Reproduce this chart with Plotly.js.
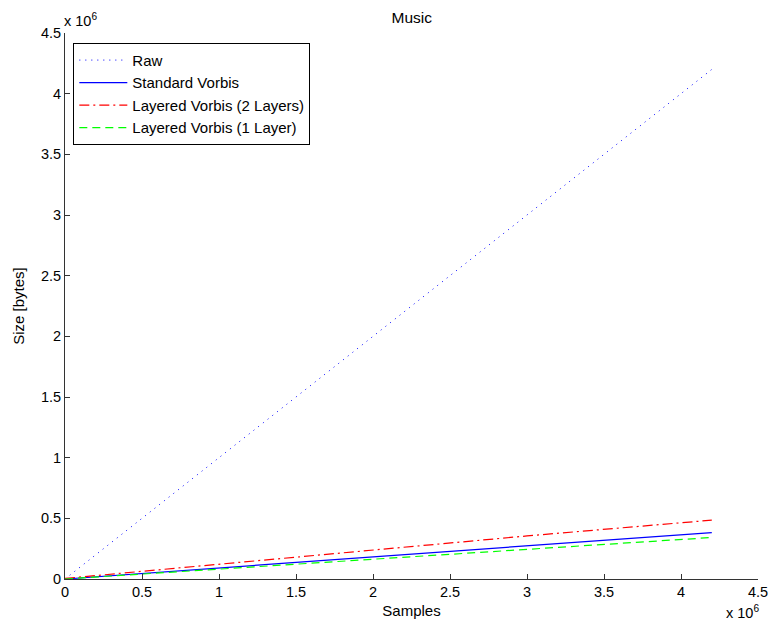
<!DOCTYPE html>
<html>
<head>
<meta charset="utf-8">
<script src="https://cdn.plot.ly/plotly-3.0.1.min.js"></script>
<style>html,body{margin:0;padding:0;background:#fff;}#chart{width:774px;height:630px;}</style>
</head>
<body>
<div id="chart"></div>
<script>
// Data (samples and sizes in units)
const samples = [0, 1e6, 2e6, 3e6, 4.2e6];
const rawSize = [0, 1e6, 2e6, 3e6, 4.2e6];
const standardVorbis = [0, 0.09e6, 0.182e6, 0.275e6, 0.383e6];
const layered2 = [0.005e6, 0.12e6, 0.24e6, 0.355e6, 0.485e6];
const layered1 = [0, 0.082e6, 0.163e6, 0.245e6, 0.342e6];
const seriesNames = ["Raw", "Standard Vorbis", "Layered Vorbis (2 Layers)", "Layered Vorbis (1 Layer)"];
const tickVals = [0, 0.5e6, 1e6, 1.5e6, 2e6, 2.5e6, 3e6, 3.5e6, 4e6, 4.5e6];
const tickText = ["0", "0.5", "1", "1.5", "2", "2.5", "3", "3.5", "4", "4.5"];

const font = "Liberation Sans, Arial, Helvetica, sans-serif";
const traces = [
  {x: samples, y: rawSize, name: seriesNames[0], mode: "lines", line: {color: "#0000ff", width: 1, dash: "1px,5px"}},
  {x: samples, y: standardVorbis, name: seriesNames[1], mode: "lines", line: {color: "#0000ff", width: 1.2}},
  {x: samples, y: layered2, name: seriesNames[2], mode: "lines", line: {color: "#ff0000", width: 1.2, dash: "10px,4px,2px,4px"}},
  {x: samples, y: layered1, name: seriesNames[3], mode: "lines", line: {color: "#00ff00", width: 1.2, dash: "8px,5px"}}
];

const axisCommon = {
  showgrid: false, zeroline: false, showline: true, linecolor: "#333", linewidth: 1,
  ticks: "inside", ticklen: 5, tickcolor: "#333", mirror: false,
  tickvals: tickVals, ticktext: tickText, tickfont: {family: font, size: 14.5, color: "#000"}
};

const layout = {
  width: 774, height: 630,
  margin: {l: 65, r: 16, t: 33, b: 51},
  paper_bgcolor: "#fff", plot_bgcolor: "#fff",
  font: {family: font, size: 15, color: "#000"},
  title: {text: "Music", font: {family: font, size: 15.5, color: "#000"}, x: 0.532, xanchor: "center", y: 0.972, yanchor: "middle"},
  xaxis: Object.assign({}, axisCommon, {range: [0, 4.5e6], title: {text: "Samples", font: {family: font, size: 15}, standoff: 6}}),
  yaxis: Object.assign({}, axisCommon, {range: [0, 4.5e6], title: {text: "Size [bytes]", font: {family: font, size: 15}, standoff: 12}}),
  showlegend: true,
  legend: {x: 0.012, y: 0.982, xanchor: "left", yanchor: "top", bordercolor: "#000", borderwidth: 1, bgcolor: "#fff",
           font: {family: font, size: 15, color: "#000"}, itemwidth: 48, tracegroupgap: 0},
  annotations: [
    {text: "x 10<sup>6</sup>", xref: "paper", yref: "paper", x: 0, y: 1, xanchor: "left", yanchor: "bottom", showarrow: false, yshift: 2, xshift: -3, font: {family: font, size: 14.5}},
    {text: "x 10<sup>6</sup>", xref: "paper", yref: "paper", x: 1, y: 0, xanchor: "right", yanchor: "top", showarrow: false, yshift: -22, xshift: 3, font: {family: font, size: 14.5}}
  ]
};

Plotly.newPlot("chart", traces, layout, {displayModeBar: false, staticPlot: true});
</script>
</body>
</html>
